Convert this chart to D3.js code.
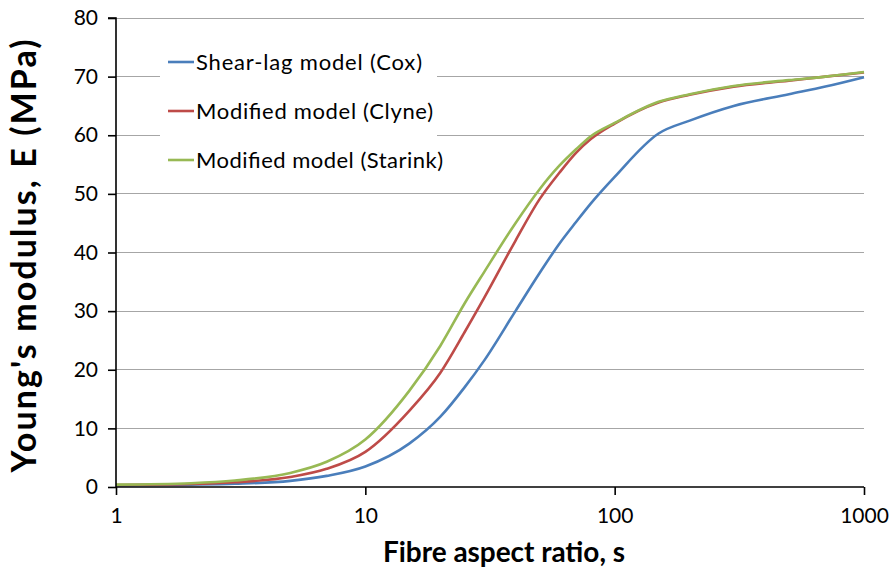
<!DOCTYPE html>
<html>
<head>
<meta charset="utf-8">
<script src="https://cdn.jsdelivr.net/npm/d3@7/dist/d3.min.js"></script>
<style>
  html, body { margin: 0; padding: 0; background: #fff; }
  svg { display: block; font-family: Lato, "Open Sans", sans-serif; }
</style>
</head>
<body>
<svg id="chart" width="891" height="572"></svg>
<script>
// Fibre aspect ratio samples (log axis)
const aspectRatio = [1, 2, 3, 5, 7, 10, 15, 20, 25, 30, 40, 50, 60, 70, 80, 100, 150, 200, 300, 500, 700, 1000];

// Young's modulus (MPa) for each model
const coxModulus     = [0.3, 0.4, 0.55, 1.05, 1.9, 3.5, 7.4, 12.0, 17.0, 21.6, 30.0, 36.5, 41.5, 45.2, 48.3, 52.9, 60.3, 62.5, 65.0, 67.0, 68.3, 69.9];
const clyneModulus   = [0.35, 0.5, 0.8, 1.7, 3.1, 6.0, 13.0, 19.5, 26.4, 32.3, 42.0, 49.1, 53.6, 57.0, 59.3, 62.0, 65.6, 66.9, 68.3, 69.3, 70.0, 70.7];
const starinkModulus = [0.4, 0.65, 1.1, 2.4, 4.3, 8.1, 16.4, 24.1, 31.3, 36.7, 45.0, 50.8, 54.8, 57.6, 59.8, 62.1, 65.7, 67.0, 68.4, 69.4, 70.0, 70.8];

const seriesNames  = ["Shear-lag model (Cox)", "Modified model (Clyne)", "Modified model (Starink)"];
const seriesColors = ["#4A7EBB", "#BE4B48", "#98B954"];

const xTicks = [1, 10, 100, 1000];
const yTicks = [0, 10, 20, 30, 40, 50, 60, 70, 80];

const svg = d3.select("#chart");
const margin = { left: 116, right: 27, top: 18, bottom: 85 };
const W = 891, H = 572;

const x = d3.scaleLog().domain([1, 1000]).range([margin.left, W - margin.right]);
const y = d3.scaleLinear().domain([0, 80]).range([H - margin.bottom, margin.top]);

// horizontal gridlines
svg.append("g")
  .selectAll("line")
  .data(yTicks.filter(d => d > 0))
  .join("line")
  .attr("x1", x(1)).attr("x2", x(1000))
  .attr("y1", d => y(d)).attr("y2", d => y(d))
  .attr("stroke", "#a6a6a6").attr("stroke-width", 1)
  .attr("shape-rendering", "crispEdges");

// legend background (hides the gridlines behind the entries)
const legend = svg.append("g");
legend.append("rect")
  .attr("x", 160).attr("y", 34).attr("width", 277).attr("height", 150)
  .attr("fill", "#fff");

// model curves
const series = [coxModulus, clyneModulus, starinkModulus];
const line = d3.line()
  .x((d, i) => x(aspectRatio[i]))
  .y(d => y(d))
  .curve(d3.curveMonotoneX);

svg.append("g")
  .selectAll("path")
  .data(series)
  .join("path")
  .attr("d", d => line(d))
  .attr("fill", "none")
  .attr("stroke", (d, i) => seriesColors[i])
  .attr("stroke-width", 2.6)
  .attr("stroke-linejoin", "round");

// axes
const yAxis = d3.axisLeft(y).tickValues(yTicks).tickSize(8).tickPadding(10).tickFormat(d3.format("d"));
const xAxis = d3.axisBottom(x).tickValues(xTicks).tickSize(8).tickPadding(13).tickFormat(d3.format("d"));

const gy = svg.append("g").attr("transform", `translate(${x(1)},0)`).call(yAxis);
const gx = svg.append("g").attr("transform", `translate(0,${y(0)})`).call(xAxis);

[gx, gy].forEach(g => {
  g.select(".domain").attr("stroke", "#000").attr("stroke-width", 1.6);
  g.selectAll(".tick line").attr("stroke", "#000").attr("stroke-width", 1.6);
  g.selectAll(".tick text")
    .attr("fill", "#000")
    .style("font-family", "Lato, sans-serif")
    .style("font-size", "21px");
});
gy.select(".domain").attr("d", `M-8,${y(80)}H0V${y(0)}`);
gx.select(".domain").attr("d", `M${x(1)},0H${x(1000)}`);

// legend entries
const rowY = [62, 111, 160];
const rowWidth = [226, 237, 247];
seriesNames.forEach((name, i) => {
  legend.append("line")
    .attr("x1", 168).attr("x2", 194)
    .attr("y1", rowY[i]).attr("y2", rowY[i])
    .attr("stroke", seriesColors[i]).attr("stroke-width", 2.6);
  legend.append("text")
    .attr("x", 196).attr("y", rowY[i] + 7.5)
    .attr("fill", "#000")
    .attr("textLength", rowWidth[i])
    .attr("lengthAdjust", "spacing")
    .style("font-size", "22px")
    .text(name);
});

// axis titles
svg.append("text")
  .attr("x", 504).attr("y", 562)
  .attr("text-anchor", "middle")
  .attr("textLength", 242)
  .attr("lengthAdjust", "spacing")
  .style("font-size", "28px").style("font-weight", "bold")
  .text("Fibre aspect ratio, s");

svg.append("text")
  .attr("transform", "translate(36,256) rotate(-90)")
  .attr("text-anchor", "middle")
  .attr("textLength", 433)
  .attr("lengthAdjust", "spacing")
  .style("font-size", "34px").style("font-weight", "bold")
  .text("Young's modulus, E (MPa)");
</script>
</body>
</html>
